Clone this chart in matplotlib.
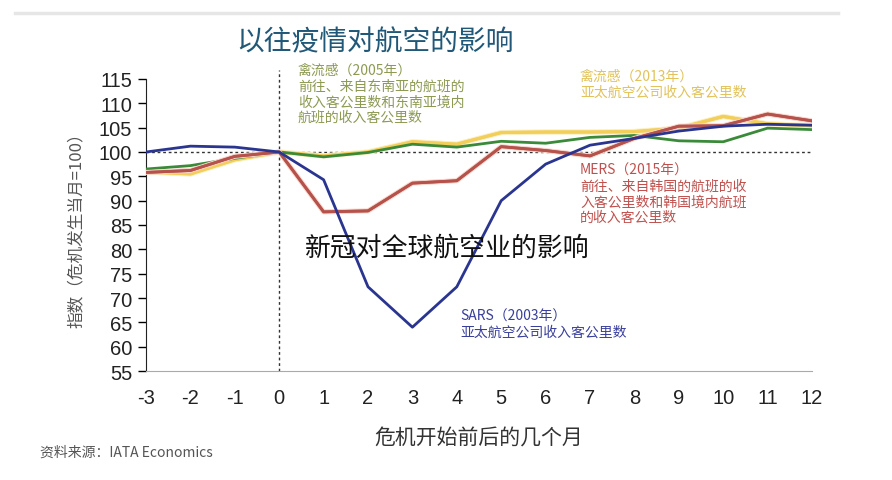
import matplotlib.pyplot as plt
import matplotlib.patheffects as pe
from matplotlib.lines import Line2D

plt.rcParams['font.family'] = ['Noto Sans CJK SC', 'DejaVu Sans']
plt.rcParams['axes.unicode_minus'] = False

# --- data ---
months = list(range(-3, 13))
sars_2003 = [100, 101.2, 101, 100, 94.3, 72.3, 64, 72.3, 90, 97.5, 101.4, 102.8, 104.3, 105.3, 105.7, 105.5]
mers_2015 = [95.8, 96.2, 99.1, 100, 87.7, 87.9, 93.6, 94.1, 101.1, 100.3, 99.2, 102.8, 105.3, 105.4, 107.8, 106.4]
flu_2005 = [96.5, 97.2, 98.7, 100, 99, 99.9, 101.6, 101, 102.2, 101.8, 103, 103.4, 102.3, 102.1, 104.9, 104.6]
flu_2013 = [95.9, 95.5, 98.4, 100, 99.2, 100, 102.1, 101.6, 104, 104.1, 104.1, 104.2, 104.9, 107.3, 105.8, 105.4]
y_ticks = list(range(55, 116, 5))

fig = plt.figure(figsize=(8.92, 4.81), dpi=100)
ax = fig.add_axes([0.1637, 0.2266, 0.7466, 0.6071])

# reference lines
ax.axhline(100, color='#333333', lw=1.0, ls=(0, (2, 2)), zorder=1)
ax.plot([0, 0], [55, 116.8], color='#333333', lw=1.0, ls=(0, (2, 2)), clip_on=False, zorder=1)

# series
ax.plot(months, flu_2013, color='#f2cf5b', lw=2.2, zorder=2,
        path_effects=[pe.withStroke(linewidth=3.8, foreground='#fbeec0'), pe.Normal()])
ax.plot(months, flu_2005, color='#3b8a3a', lw=2.0, zorder=3)
ax.plot(months, mers_2015, color='#b5524b', lw=2.0, zorder=4,
        path_effects=[pe.withStroke(linewidth=3.6, foreground='#f7d2c6'), pe.Normal()])
ax.plot(months, sars_2003, color='#2a3590', lw=2.0, zorder=5)

ax.set_xlim(-3, 12)
ax.set_ylim(55, 115)
ax.set_xticks(months)
ax.set_yticks(y_ticks)
for lab in ax.get_xticklabels() + ax.get_yticklabels():
    lab.set_family(['Liberation Sans', 'DejaVu Sans'])
    lab.set_fontsize(14.5)
    lab.set_color('#222222')
ax.tick_params(axis='x', length=0, pad=12)
ax.tick_params(axis='y', direction='out', length=6, width=1, pad=4)
ax.spines['top'].set_visible(False)
ax.spines['right'].set_visible(False)
ax.spines['bottom'].set_color('#aaaaaa')
ax.spines['left'].set_color('#222222')

ax.set_ylabel('指数（危机发生当月=100）', fontsize=12, color='#555555', labelpad=10)
ax.set_xlabel('危机开始前后的几个月', fontsize=15, color='#333333', labelpad=14)

# annotations
def note(x, y, lines, color, size=10):
    fig.text(x / 892, 1 - y / 481, '\n'.join(lines), color=color, fontsize=size,
             va='top', ha='left', linespacing=1.15)

note(298, 64, ['禽流感（2005年）', '前往、来自东南亚的航班的', '收入客公里数和东南亚境内', '航班的收入客公里数'], '#8c9a52')
note(580, 70, ['禽流感（2013年）', '亚太航空公司收入客公里数'], '#e2c25a')
note(580, 164, ['MERS（2015年）', '前往、来自韩国的航班的收', '入客公里数和韩国境内航班', '的收入客公里数'], '#c0504d')
note(460, 310, ['SARS（2003年）', '亚太航空公司收入客公里数'], '#3a3f9a')

fig.text(236 / 892, 1 - 42 / 481, '以往疫情对航空的影响', fontsize=20, color='#215878', va='center', ha='left')
fig.text(40 / 892, 1 - 453 / 481, '资料来源：IATA Economics', fontsize=10, color='#555555', va='center', ha='left')
fig.text(305 / 892, 1 - 248 / 481, '新冠对全球航空业的影响', fontsize=18.6, color='#111111', va='center', ha='left',
         fontweight='light')

fig.add_artist(Line2D([15 / 892, 838 / 892], [1 - 14 / 481, 1 - 14 / 481], color='#e6e6e6', lw=2.5))

plt.savefig('out.png', dpi=100)
